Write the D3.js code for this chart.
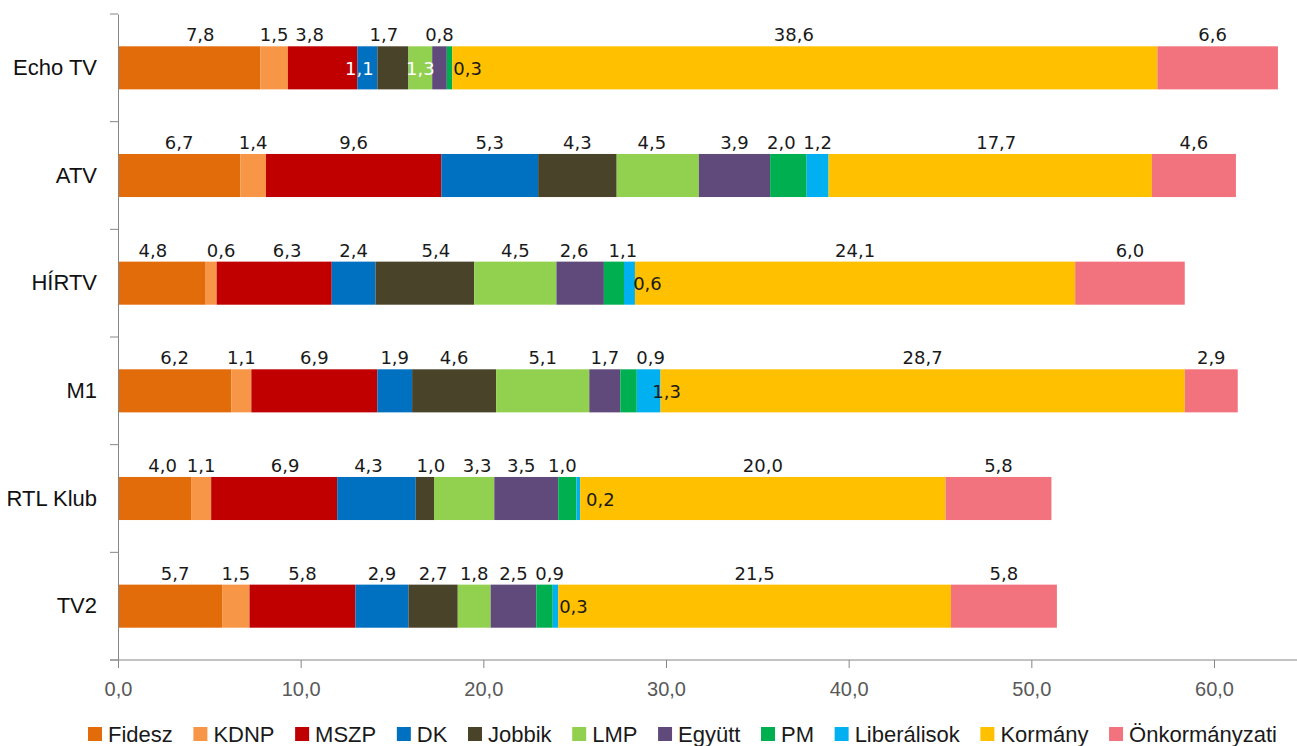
<!DOCTYPE html>
<html>
<head>
<meta charset="utf-8">
<script src="https://cdn.jsdelivr.net/npm/d3@7"></script>
<style>
  body { margin: 0; background: #fff; }
  svg { display: block; }
</style>
</head>
<body>
<div id="chart"></div>
<script>
// categories (top to bottom)
const categories = ["Echo TV", "ATV", "HÍRTV", "M1", "RTL Klub", "TV2"];

// series values, one array per party, same order as categories
const fidesz = [7.8, 6.7, 4.8, 6.2, 4.0, 5.7];
const kdnp = [1.5, 1.4, 0.6, 1.1, 1.1, 1.5];
const mszp = [3.8, 9.6, 6.3, 6.9, 6.9, 5.8];
const dk = [1.1, 5.3, 2.4, 1.9, 4.3, 2.9];
const jobbik = [1.7, 4.3, 5.4, 4.6, 1.0, 2.7];
const lmp = [1.3, 4.5, 4.5, 5.1, 3.3, 1.8];
const egyutt = [0.8, 3.9, 2.6, 1.7, 3.5, 2.5];
const pm = [0.3, 2.0, 1.1, 0.9, 1.0, 0.9];
const liberalisok = [0.0, 1.2, 0.6, 1.3, 0.2, 0.3];
const kormany = [38.6, 17.7, 24.1, 28.7, 20.0, 21.5];
const onkormanyzati = [6.6, 4.6, 6.0, 2.9, 5.8, 5.8];

const seriesNames = ["Fidesz", "KDNP", "MSZP", "DK", "Jobbik", "LMP", "Együtt", "PM", "Liberálisok", "Kormány", "Önkormányzati"];
const seriesValues = [fidesz, kdnp, mszp, dk, jobbik, lmp, egyutt, pm, liberalisok, kormany, onkormanyzati];
const seriesColors = ["#E36C0A", "#F79646", "#C00000", "#0070C0", "#494429", "#92D050", "#604A7B", "#00B050", "#00B0F0", "#FFC000", "#F2737D"];

const xTicks = [0, 10, 20, 30, 40, 50, 60];

// labels that sit inside the bar instead of above it
const insideLabels = [
    ["Echo TV", "DK", "center"],
    ["Echo TV", "LMP", "center"],
    ["Echo TV", "PM", "after"],
    ["HÍRTV", "Liberálisok", "after"],
    ["M1", "Liberálisok", "after"],
    ["RTL Klub", "Liberálisok", "after"],
    ["TV2", "Liberálisok", "after"]
];

// small sideways shifts of labels, as in the original
const labelNudges = [
    ["Echo TV", "Fidesz", 11], ["Echo TV", "MSZP", -13], ["Echo TV", "DK", -8],
    ["Echo TV", "Jobbik", -9], ["Echo TV", "Kormány", -11], ["Echo TV", "Önkormányzati", -5],
    ["ATV", "PM", -7], ["ATV", "LMP", -6], ["ATV", "Kormány", 6],
    ["HÍRTV", "Fidesz", -9], ["HÍRTV", "KDNP", 10], ["HÍRTV", "MSZP", 13],
    ["HÍRTV", "Jobbik", 11], ["HÍRTV", "PM", 9], ["HÍRTV", "Együtt", -6],
    ["M1", "PM", 22],
    ["RTL Klub", "Fidesz", 8], ["RTL Klub", "MSZP", 11], ["RTL Klub", "DK", -8],
    ["RTL Klub", "Jobbik", 6], ["RTL Klub", "LMP", 13], ["RTL Klub", "Együtt", -5],
    ["RTL Klub", "PM", -5], ["RTL Klub", "Liberálisok", 4],
    ["TV2", "Fidesz", 5], ["TV2", "PM", 5]
];

const width = 1297, height = 746;

// build rows for d3.stack
const rows = categories.map((c, i) => {
    const row = { cat: c };
    seriesNames.forEach((s, j) => row[s] = seriesValues[j][i]);
    return row;
});
const stacked = d3.stack().keys(seriesNames)(rows);

const svg = d3.select("#chart").append("svg")
    .attr("width", width)
    .attr("height", height);

const x = d3.scaleLinear().domain([0, 60]).range([118, 1214]);
const y = d3.scaleBand().domain(categories).range([14, 660]).padding(0);
const barH = y.bandwidth() * 0.4;
const barOff = (y.bandwidth() - barH) / 2;
const color = d3.scaleOrdinal().domain(seriesNames).range(seriesColors);
const fmt = v => v.toFixed(1).replace(".", ",");

// bars
const groups = svg.append("g").selectAll("g")
    .data(stacked)
    .enter().append("g")
    .attr("fill", d => color(d.key));

groups.selectAll("rect")
    .data(d => d.map(p => ({ key: d.key, p: p })))
    .enter().append("rect")
    .attr("x", d => x(d.p[0]))
    .attr("y", d => y(d.p.data.cat) + barOff)
    .attr("width", d => x(d.p[1]) - x(d.p[0]))
    .attr("height", barH);

// data labels
const labelData = [];
stacked.forEach(s => {
    s.forEach(p => {
        const v = p[1] - p[0];
        if (v <= 0) return;
        const special = insideLabels.find(l => l[0] === p.data.cat && l[1] === s.key);
        const nudge = labelNudges.find(l => l[0] === p.data.cat && l[1] === s.key);
        labelData.push({
            key: s.key, cat: p.data.cat, v: p.data[s.key], x0: p[0], x1: p[1],
            mode: special ? special[2] : "above",
            dx: nudge ? nudge[2] : 0
        });
    });
});

svg.append("g").selectAll("text")
    .data(labelData)
    .enter().append("text")
    .attr("x", d => {
        const cx = (x(d.x0) + x(d.x1)) / 2 + d.dx;
        return d.mode === "after" ? cx + 18 : cx;
    })
    .attr("y", d => {
        const top = y(d.cat) + barOff;
        return d.mode === "above" ? top - 5 : top + barH / 2 + 7;
    })
    .attr("text-anchor", "middle")
    .attr("font-family", "'DejaVu Sans', Verdana, sans-serif")
    .attr("font-size", 18)
    .attr("fill", d => d.mode === "center" ? "#ffffff" : "#1a1a1a")
    .text(d => fmt(d.v));

// x axis
const xAxis = svg.append("g")
    .attr("transform", "translate(0,660)")
    .call(d3.axisBottom(x).tickValues(xTicks).tickFormat(fmt).tickSize(8).tickSizeOuter(0).tickPadding(14));
xAxis.select(".domain").remove();
xAxis.selectAll(".tick line").attr("stroke", "#868686");
xAxis.selectAll(".tick text")
    .attr("font-family", "'Liberation Sans', Arial, sans-serif")
    .attr("font-size", 20)
    .attr("fill", "#595959");
svg.append("line")
    .attr("x1", x(0) - 8).attr("x2", width)
    .attr("y1", 660).attr("y2", 660)
    .attr("stroke", "#868686");

// y axis
const yAxis = svg.append("g")
    .attr("transform", "translate(118,0)")
    .call(d3.axisLeft(y).tickSize(0).tickPadding(21));
yAxis.select(".domain").attr("stroke", "#868686");
yAxis.selectAll(".tick text")
    .attr("font-family", "'Liberation Sans', Arial, sans-serif")
    .attr("font-size", 22)
    .attr("fill", "#111");
// boundary ticks between categories
const bounds = categories.map(c => y(c)).concat([y.range()[1]]);
svg.append("g").selectAll("line")
    .data(bounds)
    .enter().append("line")
    .attr("x1", 110).attr("x2", 118)
    .attr("y1", d => d).attr("y2", d => d)
    .attr("stroke", "#868686");

// legend, spread between the left and right edges of the original
const legendLeft = 88, legendRight = 1277;
const legend = svg.append("g").attr("transform", "translate(0,742)");
const items = legend.selectAll("g")
    .data(seriesNames)
    .enter().append("g");
items.append("rect")
    .attr("width", 14).attr("height", 14)
    .attr("y", -15)
    .attr("fill", d => color(d));
items.append("text")
    .attr("x", 20)
    .attr("font-family", "'Liberation Sans', Arial, sans-serif")
    .attr("font-size", 22)
    .attr("fill", "#1a1a1a")
    .text(d => d);
const itemW = [];
items.each(function () {
    itemW.push(20 + d3.select(this).select("text").node().getComputedTextLength());
});
const gap = (legendRight - legendLeft - d3.sum(itemW)) / (itemW.length - 1);
let pos = legendLeft;
items.each(function (d, i) {
    d3.select(this).attr("transform", `translate(${pos},0)`);
    pos += itemW[i] + gap;
});
</script>
</body>
</html>
